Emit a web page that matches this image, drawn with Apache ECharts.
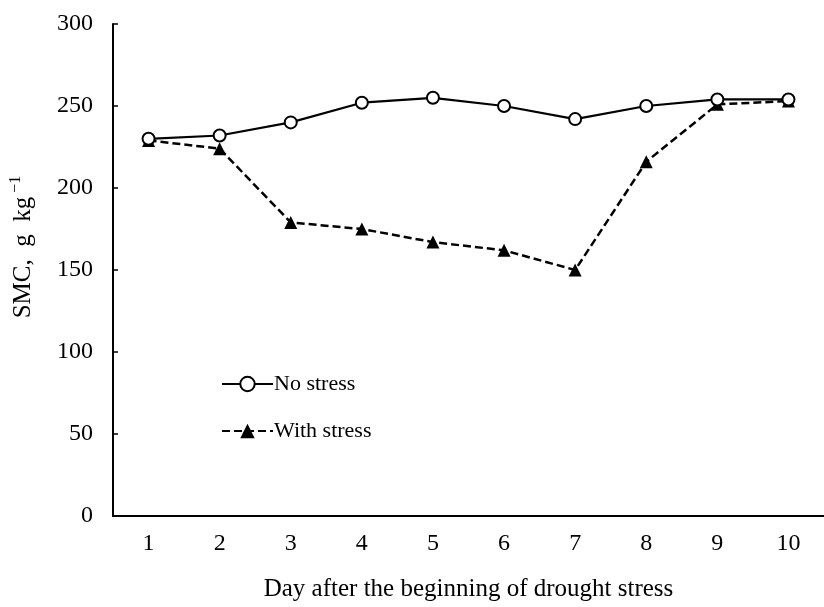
<!DOCTYPE html>
<html>
<head>
<meta charset="utf-8">
<title>SMC chart</title>
<script src="https://cdn.jsdelivr.net/npm/echarts@6/dist/echarts.min.js"></script>
<style>
  html, body { margin: 0; padding: 0; background: #fff; }
  #chart { width: 824px; height: 607px; }
</style>
</head>
<body>
<div id="chart"></div>
<script>
// days after the start of drought stress
const days = ['1', '2', '3', '4', '5', '6', '7', '8', '9', '10']
// soil moisture content, g/kg
const noStress = [230, 232, 240, 252, 255, 250, 242, 250, 254, 254]
const withStress = [229, 224, 179, 175, 167, 162, 150, 216, 251, 253]
const yTicks = [0, 50, 100, 150, 200, 250, 300]

const font = 'Liberation Serif, Times New Roman, serif'

const chart = echarts.init(document.getElementById('chart'))

chart.setOption({
  animation: false,
  textStyle: { fontFamily: font, color: '#000' },
  grid: {
    left: 110,
    right: -11,
    top: 24,
    bottom: 90
  },
  legend: {
    orient: 'vertical',
    left: 216,
    top: 368,
    itemWidth: 51,
    itemHeight: 18,
    itemGap: 25,
    textStyle: { fontFamily: font, fontSize: 22, color: '#000', padding: [0, 0, 0, -4] },
    data: ['No stress', 'With stress']
  },
  xAxis: {
    type: 'category',
    data: days,
    boundaryGap: true,
    name: 'Day after the beginning of drought stress',
    nameLocation: 'middle',
    nameGap: 61,
    nameTextStyle: { fontFamily: font, fontSize: 25, color: '#000' },
    axisLine: { lineStyle: { color: '#000', width: 2 } },
    axisTick: { inside: true, length: 6, lineStyle: { color: '#000', width: 1.5 } },
    axisLabel: { margin: 16, fontFamily: font, fontSize: 24, color: '#000' },
    splitLine: { show: false }
  },
  yAxis: {
    type: 'value',
    min: yTicks[0],
    max: yTicks[yTicks.length - 1],
    interval: yTicks[1] - yTicks[0],
    name: 'SMC,  g  kg{sup| −1}',
    nameLocation: 'middle',
    nameGap: 75,
    nameRotate: 90,
    nameTextStyle: {
      fontFamily: font,
      fontSize: 25,
      color: '#000',
      padding: [0, 0, 0, 46],
      rich: {
        sup: { fontFamily: font, fontSize: 16, color: '#000', padding: [0, 0, 14, 0] }
      }
    },
    axisLine: { show: true, lineStyle: { color: '#000', width: 2 } },
    axisTick: { show: true, inside: true, length: 5, lineStyle: { color: '#000', width: 1.5 } },
    axisLabel: { margin: 20, fontFamily: font, fontSize: 24, color: '#000' },
    splitLine: { show: false }
  },
  series: [
    {
      name: 'No stress',
      type: 'line',
      data: noStress,
      symbol: 'circle',
      symbolSize: 12,
      lineStyle: { color: '#000', width: 2.2, type: 'solid' },
      itemStyle: { color: '#fff', borderColor: '#000', borderWidth: 2 },
      z: 3
    },
    {
      name: 'With stress',
      type: 'line',
      data: withStress,
      symbol: 'triangle',
      symbolSize: 13,
      lineStyle: { color: '#000', width: 2.5, type: [8, 4] },
      itemStyle: { color: '#000', borderColor: '#000', borderWidth: 0 },
      z: 2
    }
  ]
})
</script>
</body>
</html>
